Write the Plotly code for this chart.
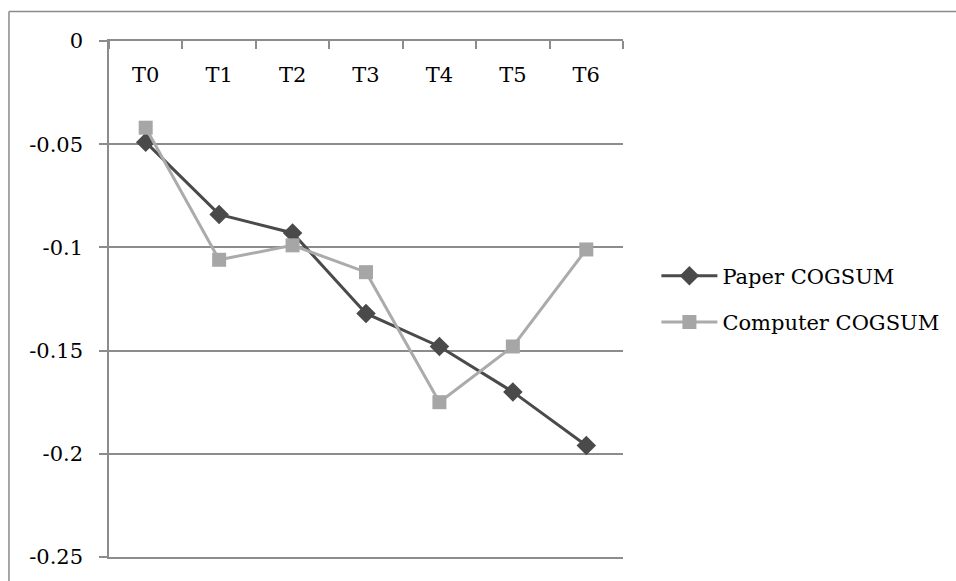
import plotly.graph_objects as go

categories = ["T0", "T1", "T2", "T3", "T4", "T5", "T6"]
paper_cogsum = [-0.049, -0.084, -0.093, -0.132, -0.148, -0.170, -0.196]
computer_cogsum = [-0.042, -0.106, -0.099, -0.112, -0.175, -0.148, -0.101]
y_ticks = [0, -0.05, -0.1, -0.15, -0.2, -0.25]
y_tick_text = ["0", "-0.05", "-0.1", "-0.15", "-0.2", "-0.25"]

idx = list(range(len(categories)))
FONT = "DejaVu Serif"
GRID = "#8c8c8c"
FS = 21

fig = go.Figure()
fig.add_trace(go.Scatter(
    x=idx, y=paper_cogsum, name="Paper COGSUM", mode="lines+markers",
    line=dict(color="#4a4a4a", width=3),
    marker=dict(symbol="diamond", size=15, color="#4a4a4a"),
    legendgroup="a",
))
fig.add_trace(go.Scatter(
    x=idx, y=computer_cogsum, name="Computer COGSUM", mode="lines+markers",
    line=dict(color="#ababab", width=3),
    marker=dict(symbol="square", size=14, color="#a6a6a6"),
    legendgroup="b",
))
# invisible helper trace so the category-label axis is drawn
fig.add_trace(go.Scatter(
    x=idx, y=paper_cogsum, xaxis="x2", yaxis="y", mode="markers",
    marker=dict(opacity=0), showlegend=False, hoverinfo="skip",
))

xr = [-0.5, len(categories) - 0.5]
fig.update_layout(
    width=956, height=581,
    margin=dict(l=109, r=333, t=41, b=22),
    paper_bgcolor="white", plot_bgcolor="white",
    font=dict(family=FONT, size=FS, color="black"),
    showlegend=True,
    legend=dict(
        x=1.065, xanchor="left", y=0.50, yanchor="middle",
        font=dict(family=FONT, size=FS),
        traceorder="grouped", tracegroupgap=16,
        itemwidth=56,
    ),
    xaxis=dict(
        side="top", range=xr,
        showticklabels=False, ticks="",
        showgrid=False, zeroline=False,
        showline=True, mirror=True, linecolor=GRID, linewidth=1.5,
        minor=dict(tickmode="array",
                   tickvals=[i - 0.5 for i in range(len(categories) + 1)],
                   ticks="inside", ticklen=8, tickcolor=GRID, tickwidth=1.5,
                   showgrid=False),
        fixedrange=True,
    ),
    xaxis2=dict(
        overlaying="x", anchor="free", position=0.912, side="top",
        range=xr, tickmode="array", tickvals=idx, ticktext=categories,
        ticks="", showline=False, showgrid=False, zeroline=False,
        tickfont=dict(family=FONT, size=FS),
        fixedrange=True,
    ),
    yaxis=dict(
        range=[-0.25, 0], tickmode="array", tickvals=y_ticks, ticktext=y_tick_text,
        ticks="outside", ticklen=8, tickcolor=GRID, tickwidth=1.5,
        ticklabelstandoff=12,
        showgrid=True, gridcolor=GRID, gridwidth=1.5,
        zeroline=False, showline=True, linecolor=GRID, linewidth=1.5,
        tickfont=dict(family=FONT, size=FS),
        fixedrange=True,
    ),
    shapes=[
        dict(type="line", xref="paper", yref="paper", x0=-0.1946, x1=2.0,
             y0=1.0571, y1=1.0571, line=dict(color="#8a8a8a", width=1.5)),
        dict(type="line", xref="paper", yref="paper", x0=-0.1946, x1=-0.1946,
             y0=1.0571, y1=-0.2, line=dict(color="#8a8a8a", width=1.5)),
    ],
)

fig.write_html(
    "out.html",
    config={"displayModeBar": False},
    post_script="document.body.style.margin='0';document.body.style.overflow='hidden';",
)
